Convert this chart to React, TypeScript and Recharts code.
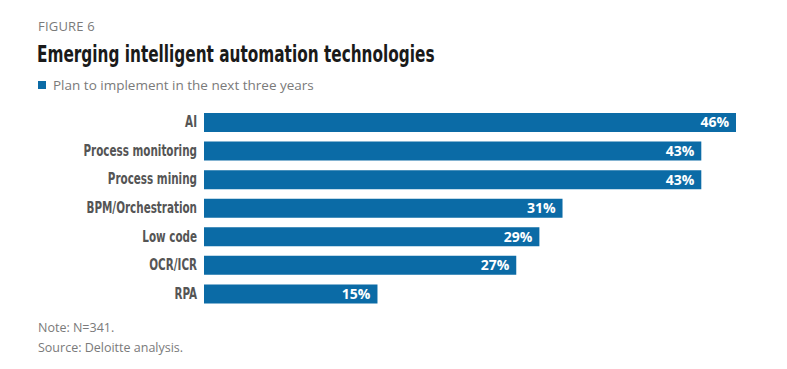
import React from 'react';
import { BarChart, Bar, XAxis, YAxis, LabelList, Cell } from 'recharts';

const categories = ['AI', 'Process monitoring', 'Process mining', 'BPM/Orchestration', 'Low code', 'OCR/ICR', 'RPA'];
const planValues = [46, 43, 43, 31, 29, 27, 15];

const BLUE = '#0b6ba6';
const GREY = '#7a7a7a';
const CONDENSED = '"DejaVu Sans Condensed", "DejaVu Sans", sans-serif';
const SANS = '"Open Sans", "Noto Sans", sans-serif';

const data = categories.map((name, i) => ({ name, value: planValues[i] }));

// no narrow font installed, so squeeze the condensed one horizontally
const CategoryTick = ({ x, y, payload }: any) => (
  <g transform={`translate(${x},${y}) scale(0.77,1)`}>
    <text x={0} y={0} dy={5} textAnchor="end" fill="#555" fontSize={15} fontWeight={700} fontFamily={CONDENSED}>
      {payload.value}
    </text>
  </g>
);

export default function App() {
  return (
    <div style={{ position: 'absolute', left: 0, top: 0, width: 787, height: 369, background: '#fff', overflow: 'hidden' }}>
      <div style={{ position: 'absolute', left: 38, top: 17, fontFamily: SANS, fontSize: 13, color: GREY, letterSpacing: 0.2 }}>
        FIGURE 6
      </div>
      <div
        style={{
          position: 'absolute', left: 37, top: 41, fontFamily: CONDENSED, fontWeight: 700, fontSize: 23,
          color: '#1a1a1a', whiteSpace: 'nowrap', transform: 'scaleX(0.74)', transformOrigin: 'left top',
        }}
      >
        Emerging intelligent automation technologies
      </div>
      <div style={{ position: 'absolute', left: 38, top: 76, display: 'flex', alignItems: 'center', fontFamily: SANS, fontSize: 13.5, color: GREY }}>
        <span style={{ display: 'inline-block', width: 8, height: 8, background: BLUE, marginRight: 7 }} />
        Plan to implement in the next three years
      </div>

      <div style={{ position: 'absolute', left: 0, top: 108 }}>
        <BarChart width={787} height={200} data={data} layout="vertical" margin={{ top: 0, right: 51, left: 0, bottom: 0 }} barCategoryGap={0}>
          <XAxis type="number" hide domain={[0, 46]} />
          <YAxis
            dataKey="name"
            type="category"
            width={204}
            tickLine={false}
            axisLine={false}
            tickSize={0}
            tickMargin={7}
            interval={0}
            tick={<CategoryTick />}
          />
          <Bar dataKey="value" barSize={19} isAnimationActive={false}>
            {data.map((d, i) => (
              <Cell key={`c-${i}`} fill={BLUE} />
            ))}
            <LabelList
              dataKey="value"
              position="insideRight"
              offset={7}
              formatter={(v: number) => `${v}%`}
              style={{ fill: '#fff', fontSize: 14, fontWeight: 700, fontFamily: SANS }}
            />
          </Bar>
        </BarChart>
      </div>

      <div style={{ position: 'absolute', left: 38, top: 318, fontFamily: SANS, fontSize: 12.5, color: GREY, lineHeight: '20px' }}>
        <div>Note: N=341.</div>
        <div>Source: Deloitte analysis.</div>
      </div>
    </div>
  );
}
